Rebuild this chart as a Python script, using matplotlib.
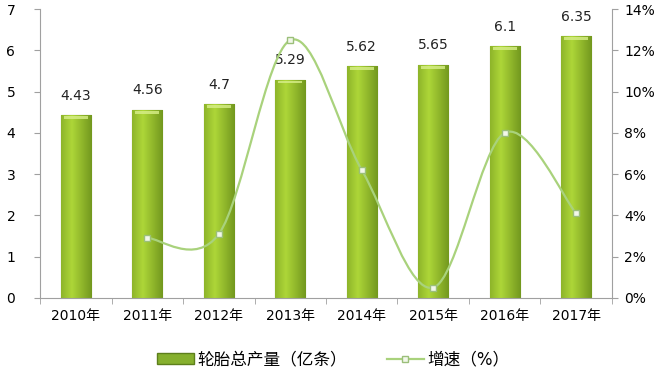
import matplotlib
matplotlib.use("Agg")
import matplotlib.pyplot as plt
import numpy as np
from matplotlib.path import Path
from matplotlib.patches import PathPatch, Patch
from matplotlib.lines import Line2D

plt.rcParams['font.family'] = ['DejaVu Sans', 'Noto Sans CJK SC']

# data
years = ['2010年', '2011年', '2012年', '2013年', '2014年', '2015年', '2016年', '2017年']
output = [4.43, 4.56, 4.7, 5.29, 5.62, 5.65, 6.1, 6.35]
output_labels = ['4.43', '4.56', '4.7', '5.29', '5.62', '5.65', '6.1', '6.35']
growth_years = [1, 2, 3, 4, 5, 6, 7]   # index into years
growth = [2.9, 3.1, 12.5, 6.2, 0.5, 8.0, 4.1]   # %

bar_w = 0.42
line_col = '#a9d27c'
axis_col = '#a0a0a0'


def smooth_path(xs, ys, t=1/6):
    # catmull-rom style bezier, like excel's smoothed line
    pts = list(zip(xs, ys))
    verts = [pts[0]]
    codes = [Path.MOVETO]
    for i in range(len(pts) - 1):
        p0 = pts[i - 1] if i > 0 else pts[i]
        p1 = pts[i]
        p2 = pts[i + 1]
        p3 = pts[i + 2] if i + 2 < len(pts) else pts[i + 1]
        c1 = (p1[0] + (p2[0] - p0[0]) * t, p1[1] + (p2[1] - p0[1]) * t)
        c2 = (p2[0] - (p3[0] - p1[0]) * t, p2[1] - (p3[1] - p1[1]) * t)
        verts += [c1, c2, p2]
        codes += [Path.CURVE4] * 3
    return Path(verts, codes)


fig = plt.figure(figsize=(6.6, 3.7), dpi=100)
ax = fig.add_axes([0.061, 0.195, 0.866, 0.78])
x = np.arange(len(years))

# cylinder-ish bars: gradient clipped to each bar
grad = np.linspace(0, 1, 64)
shade = 1 - 0.55 * np.abs(grad - 0.35) * 2
light = np.array([0.68, 0.84, 0.22])
dark = np.array([0.36, 0.50, 0.08])
img = (dark[None, :] + (light - dark)[None, :] * np.clip(shade, 0, 1)[:, None])[None, :, :]

bars = ax.bar(x, output, width=bar_w, color='#86b02e', edgecolor='#5d7f1c', linewidth=0.8, zorder=2)
for b in bars:
    x0, w, h = b.get_x(), b.get_width(), b.get_height()
    im = ax.imshow(img, extent=[x0, x0 + w, 0, h], aspect='auto', zorder=2.5, interpolation='bilinear')
    im.set_clip_path(b)
    # light cap on top
    ax.add_patch(plt.Rectangle((x0 + w * 0.1, h - 0.09), w * 0.8, 0.07, color='#d8ef8a',
                               alpha=0.8, zorder=2.6, linewidth=0))

for xi, v, lab in zip(x, output, output_labels):
    ax.annotate(lab, (xi, v), xytext=(0, 9), textcoords='offset points',
                ha='center', va='bottom', fontsize=10, color='#222222')

ax.set_xlim(-0.5, len(years) - 0.5)
ax.set_ylim(0, 7)
ax.set_yticks(range(0, 8))
ax.set_xticks(x)
ax.set_xticklabels(years, fontsize=10)
ax.set_xticks(np.arange(-0.5, len(years), 1), minor=True)
ax.tick_params(axis='x', which='major', length=0, pad=8)
ax.tick_params(axis='x', which='minor', length=4, color=axis_col, direction='out')
ax.tick_params(axis='y', length=4, color=axis_col, labelsize=10, pad=14)
for s in ['top', 'right']:
    ax.spines[s].set_visible(False)
for s in ['left', 'bottom']:
    ax.spines[s].set_color(axis_col)

ax2 = ax.twinx()
ax2.set_ylim(0, 14)
ax2.set_yticks(range(0, 15, 2))
ax2.set_yticklabels([f'{v}%' for v in range(0, 15, 2)])
ax2.tick_params(axis='y', length=4, color=axis_col, labelsize=10, pad=5)
for s in ['top', 'left', 'bottom']:
    ax2.spines[s].set_visible(False)
ax2.spines['right'].set_color(axis_col)

gx = [x[i] for i in growth_years]
ax2.add_patch(PathPatch(smooth_path(gx, growth), facecolor='none', edgecolor=line_col,
                        linewidth=1.6, zorder=3))
ax2.plot(gx, growth, linestyle='none', marker='s', markersize=5,
         markerfacecolor='#f2f7ea', markeredgecolor='#9bbf7a', zorder=4)

handles = [Patch(facecolor='#86b02e', edgecolor='#5d7f1c'),
           Line2D([0], [0], color=line_col, linewidth=1.6, marker='s', markersize=4,
                  markerfacecolor='#f2f7ea', markeredgecolor='#9bbf7a')]
fig.legend(handles, ['轮胎总产量（亿条）', '增速（%）'], loc='center', ncol=2,
           bbox_to_anchor=(0.505, 0.028), frameon=False, fontsize=12,
           handlelength=2.2, handleheight=0.6, columnspacing=2.4, handletextpad=0.2)

fig.savefig('out.png', dpi=100)
